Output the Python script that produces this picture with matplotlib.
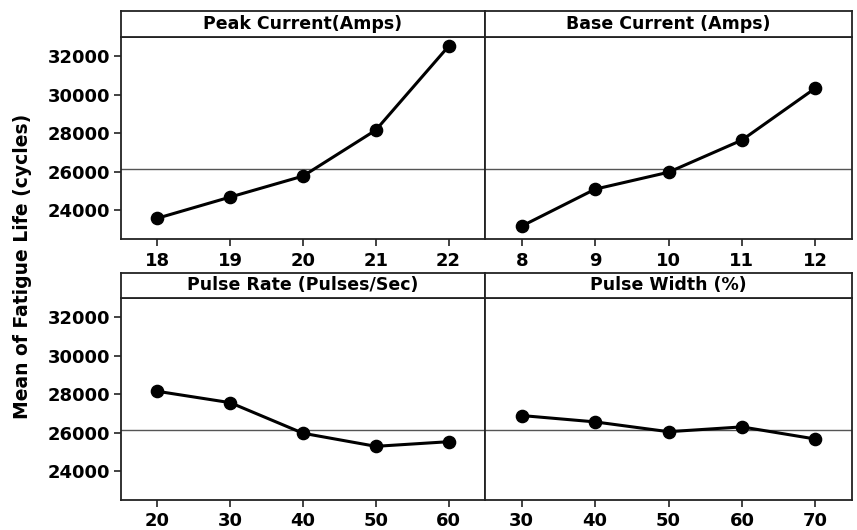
import matplotlib

matplotlib.use("Agg")
import matplotlib.pyplot as plt

# main effects plot data
peak_levels = ["18", "19", "20", "21", "22"]
peak_means = [23580, 24680, 25770, 28160, 32520]

base_levels = ["8", "9", "10", "11", "12"]
base_means = [23170, 25090, 25970, 27640, 30340]

rate_levels = ["20", "30", "40", "50", "60"]
rate_means = [28150, 27560, 25970, 25290, 25530]

width_levels = ["30", "40", "50", "60", "70"]
width_means = [26890, 26560, 26050, 26300, 25670]

panel_titles = [
    "Peak Current(Amps)",
    "Base Current (Amps)",
    "Pulse Rate (Pulses/Sec)",
    "Pulse Width (%)",
]
grand_mean = 26150
y_ticks = [24000, 26000, 28000, 30000, 32000]

W, H = 857, 530
fig = plt.figure(figsize=(W / 100, H / 100), dpi=100)
plt.rcParams["font.family"] = "DejaVu Sans"

# pixel layout: (left, right) columns, (strip_top, strip_bottom, axes_bottom) rows
cols = [(121, 485), (485, 852)]
rows = [(11, 37, 239), (273, 298, 500)]

panels = [
    (peak_levels, peak_means),
    (base_levels, base_means),
    (rate_levels, rate_means),
    (width_levels, width_means),
]

frame_color = "#222222"

for i, (levels, means) in enumerate(panels):
    r, c = divmod(i, 2)
    x0, x1 = cols[c]
    s_top, s_bot, a_bot = rows[r]

    ax = fig.add_axes([x0 / W, 1 - a_bot / H, (x1 - x0) / W, (a_bot - s_bot) / H])
    strip = fig.add_axes([x0 / W, 1 - s_bot / H, (x1 - x0) / W, (s_bot - s_top) / H])

    xs = list(range(len(levels)))
    ax.axhline(grand_mean, color="#555555", linewidth=1.0, zorder=1)
    ax.plot(xs, means, color="black", linewidth=2.2, marker="o",
            markersize=8.8, zorder=3)

    ax.set_xlim(-0.5, len(levels) - 0.5)
    ax.set_ylim(22500, 33000)
    ax.set_xticks(xs)
    ax.set_xticklabels(levels, fontsize=13, fontweight="bold")
    ax.set_yticks(y_ticks)
    if c == 0:
        ax.set_yticklabels([str(v) for v in y_ticks], fontsize=13,
                           fontweight="bold")
        ax.tick_params(axis="y", direction="out", length=5, width=1.2,
                       color=frame_color, pad=3)
    else:
        ax.tick_params(axis="y", left=False, labelleft=False)
    ax.tick_params(axis="x", direction="out", length=5, width=1.2,
                   color=frame_color, pad=4)
    for sp in ax.spines.values():
        sp.set_color(frame_color)
        sp.set_linewidth(1.3)

    strip.set_xticks([])
    strip.set_yticks([])
    for sp in strip.spines.values():
        sp.set_color(frame_color)
        sp.set_linewidth(1.3)
    strip.text(0.5, 0.5, panel_titles[i], ha="center", va="center",
               fontsize=12.5, fontweight="bold", transform=strip.transAxes)

fig.text(23 / W, 1 - 266 / H, "Mean of Fatigue Life (cycles)", rotation=90,
         ha="center", va="center", fontsize=13.5, fontweight="bold")

fig.savefig("out.png", dpi=100)
